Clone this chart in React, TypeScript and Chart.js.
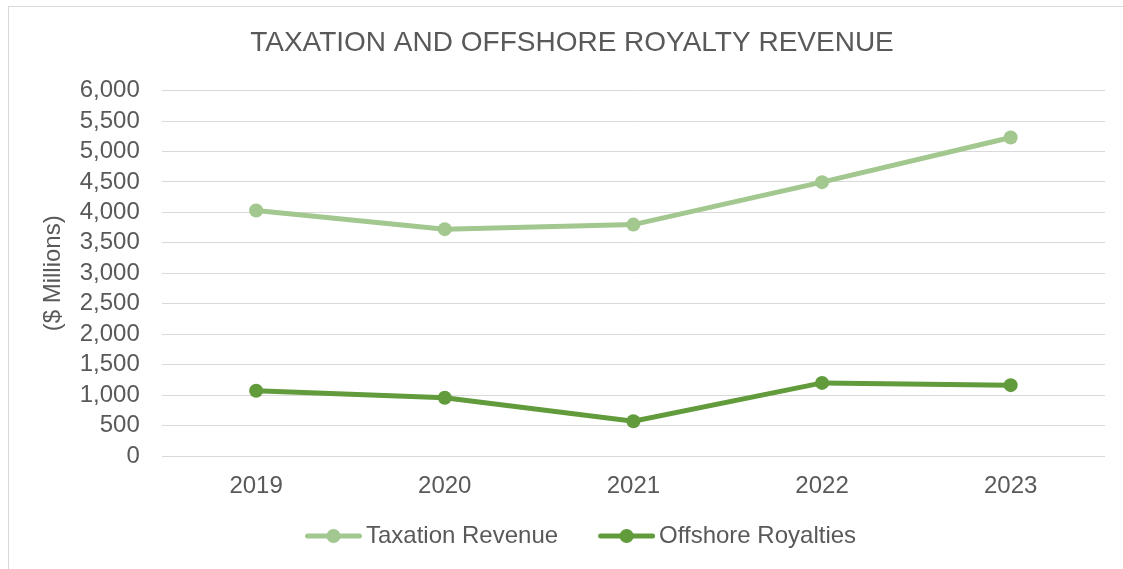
import React, { useEffect, useRef } from "react";
import { Chart, registerables } from "chart.js";

Chart.register(...registerables);

const categories = ["2019", "2020", "2021", "2022", "2023"];
const taxationRevenue = [4030, 3725, 3800, 4497, 5230];
const offshoreRoyalties = [1071, 956, 571, 1200, 1163];
const seriesNames = ["Taxation Revenue", "Offshore Royalties"];
const seriesColors = ["#A2C78F", "#619B3B"];
const chartTitle = "TAXATION AND OFFSHORE ROYALTY REVENUE";
const yAxisTitle = "($ Millions)";

const FONT = "'Liberation Sans', Arial, sans-serif";
const TEXT = "#595959";

const LEGEND_BOX = 66;
const LEGEND_PAD = 23;

// legend marker: line with a dot, drawn at the right end of a transparent image
function makeMarker(color: string): HTMLCanvasElement {
  const c = document.createElement("canvas");
  const w = LEGEND_BOX + 16;
  c.width = w;
  c.height = 14;
  const ctx = c.getContext("2d")!;
  const x0 = w - 57;
  ctx.strokeStyle = color;
  ctx.lineWidth = 5;
  ctx.lineCap = "round";
  ctx.beginPath();
  ctx.moveTo(x0 + 2.5, 7);
  ctx.lineTo(x0 + 54.5, 7);
  ctx.stroke();
  ctx.fillStyle = color;
  ctx.beginPath();
  ctx.arc(x0 + 28.5, 7, 7, 0, Math.PI * 2);
  ctx.fill();
  return c;
}

export default function App() {
  const ref = useRef<HTMLCanvasElement | null>(null);

  useEffect(() => {
    if (!ref.current) return;
    const markers = seriesColors.map(makeMarker);
    const mk = (i: number, data: number[]) => ({
      label: seriesNames[i],
      data,
      borderColor: seriesColors[i],
      backgroundColor: seriesColors[i],
      pointBackgroundColor: seriesColors[i],
      pointBorderColor: seriesColors[i],
      borderWidth: 5,
      pointRadius: 7,
      pointBorderWidth: 0,
      tension: 0,
    });
    const chart = new Chart(ref.current, {
      type: "line",
      data: {
        labels: categories,
        datasets: [mk(0, taxationRevenue), mk(1, offshoreRoyalties)],
      },
      options: {
        animation: false,
        responsive: false,
        maintainAspectRatio: false,
        layout: { padding: { left: 30, right: 32, top: 0, bottom: 27 } },
        plugins: {
          title: {
            display: true,
            text: chartTitle,
            color: TEXT,
            font: { family: FONT, size: 28, weight: "normal" },
            padding: { top: 19, bottom: 31 },
          },
          legend: {
            display: true,
            position: "bottom",
            labels: {
              usePointStyle: true,
              pointStyleWidth: LEGEND_BOX,
              boxHeight: 14,
              padding: LEGEND_PAD,
              color: TEXT,
              font: { family: FONT, size: 24 },
              generateLabels: (ch: any) => {
                const items = (Chart as any).defaults.plugins.legend.labels.generateLabels(ch);
                items.forEach((it: any, i: number) => {
                  it.pointStyle = markers[i];
                });
                return items;
              },
            },
          },
          tooltip: { enabled: false },
        },
        scales: {
          x: {
            offset: true,
            grid: { display: false, drawTicks: false },
            border: { display: false },
            ticks: {
              color: TEXT,
              font: { family: FONT, size: 24 },
              padding: 16,
              maxRotation: 0,
              autoSkip: false,
            },
            afterFit: (scale: any) => {
              scale.height = 45;
            },
          },
          y: {
            min: 0,
            max: 6000,
            grid: { color: "#D9D9D9", lineWidth: 1, drawTicks: false },
            border: { display: false },
            ticks: {
              stepSize: 500,
              autoSkip: false,
              color: TEXT,
              font: { family: FONT, size: 24 },
              padding: 22,
              callback: (v: any) => Number(v).toLocaleString("en-US"),
            },
            title: {
              display: true,
              text: yAxisTitle,
              color: TEXT,
              font: { family: FONT, size: 24 },
              padding: { top: 0, bottom: 12 },
            },
            afterFit: (scale: any) => {
              scale.width = 122.8;
            },
          },
        },
      },
    });
    return () => chart.destroy();
  }, []);

  return (
    <div
      style={{
        position: "fixed",
        left: 8,
        top: 6,
        width: 1130,
        height: 580,
        border: "1px solid #D9D9D9",
        boxSizing: "border-box",
        background: "#fff",
      }}
    >
      <canvas ref={ref} width={1128} height={578} style={{ display: "block" }} />
    </div>
  );
}
